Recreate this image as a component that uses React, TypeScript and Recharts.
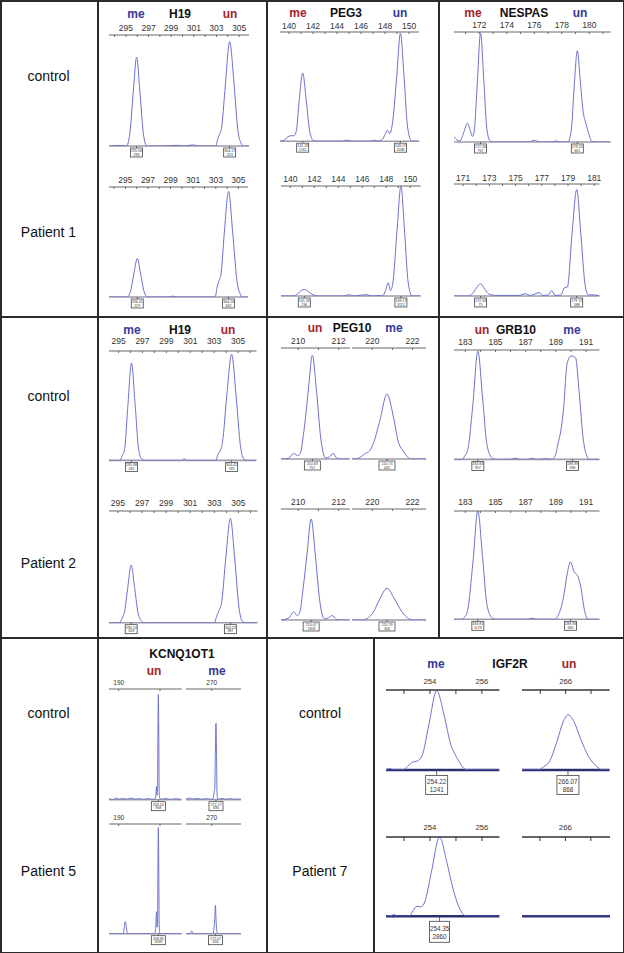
import React from 'react';
import { LineChart, Line, XAxis, YAxis, ReferenceLine, ReferenceDot } from 'recharts';

type Pt = [number, number];
type Box = { x: number; a: string; b: string };

const FONT = '"Liberation Sans", Arial, Helvetica, sans-serif';
const BLUE = '#363a94';
const RED = '#a3242b';
const TRACE = '#6c70cf';

// tick values and labelled ticks
const h19Ticks1 = [294, 295, 296, 297, 298, 299, 300, 301, 302, 303, 304, 305];
const h19Ticks2 = [295, 296, 297, 298, 299, 300, 301, 302, 303, 304, 305, 306];
const h19Labels = [295, 297, 299, 301, 303, 305];
const peg3Ticks = [140, 141, 142, 143, 144, 145, 146, 147, 148, 149, 150];
const peg3Labels = [140, 142, 144, 146, 148, 150];
const nespasTicks = [171, 172, 173, 174, 175, 176, 177, 178, 179, 180, 181];
const nespasLabelsCtrl = [172, 174, 176, 178, 180];
const nespasLabelsP1 = [171, 173, 175, 177, 179, 181];
const peg10TicksA = [210, 211, 212];
const peg10LabelsA = [210, 212];
const peg10TicksB = [220, 221, 222];
const peg10LabelsB = [220, 222];
const grb10Ticks = [183, 184, 185, 186, 187, 188, 189, 190, 191];
const grb10Labels = [183, 185, 187, 189, 191];
const kcnqTicksA = [190, 210];
const kcnqLabelsA = [190];
const kcnqTicksB = [270];
const kcnqLabelsB = [270];
const igf2rTicksA = [253, 254, 255, 256];
const igf2rLabelsA = [254, 256];
const igf2rTicksB = [265, 266, 267];
const igf2rLabelsB = [266];

// traces: [size (bp), signal (% of panel height)]
const h19Ctrl1: Pt[] = [
  [293.5, 0], [294.6, 0.5], [295.04, 0], [295.34, 11], [295.64, 48], [295.94, 80], [296.24, 48], [296.54, 11], [296.84, 0],
  [298.2, 0], [299.5, 0.6], [300.2, 0], [300.9, 1], [301.5, 0],
  [302.95, 0], [303.1, 6], [303.25, 10], [303.45, 16], [303.75, 50], [304.17, 94], [304.55, 57], [304.9, 14], [305.2, 2], [305.35, 0], [305.88, 0],
];
const peg3Ctrl: Pt[] = [
  [139.25, 0], [139.6, 1], [139.9, 4], [140.15, 5], [140.4, 5], [140.6, 9], [140.84, 36], [141.14, 62.5], [141.44, 37], [141.74, 8], [142.04, 0.5], [142.4, 0],
  [144.5, 0], [144.83, 1], [145.2, 0], [146.8, 0], [147.1, 0.8], [147.4, 0],
  [147.8, 2], [148.0, 6], [148.2, 10], [148.4, 7], [148.6, 15], [148.98, 60], [149.28, 99], [149.58, 60], [149.88, 13], [150.2, 0.5], [150.5, 0], [150.83, 0],
];
const nespasCtrl: Pt[] = [
  [170.16, 5], [170.35, 2], [170.6, 1], [170.85, 8], [171.13, 17], [171.35, 10], [171.5, 5], [171.63, 10], [171.86, 55], [172.09, 99], [172.32, 58], [172.55, 12], [172.8, 0.5], [173.1, 0],
  [175.6, 0], [176.0, 1.5], [176.4, 0], [177.3, 0], [177.6, 1], [177.9, 0],
  [178.45, 0], [178.7, 12], [178.9, 50], [179.13, 83], [179.35, 55], [179.55, 28], [179.75, 17], [179.95, 8], [180.2, 0.5], [180.5, 0], [181.55, 0],
];
const h19P1: Pt[] = [
  [293.55, 0], [295.15, 0], [295.45, 5], [295.75, 21], [296.05, 35], [296.35, 21], [296.65, 5], [296.95, 0],
  [298.8, 0], [299.2, 0.8], [299.6, 0],
  [302.95, 0], [303.1, 8], [303.25, 14], [303.45, 20], [303.75, 58], [304.13, 96], [304.5, 58], [304.88, 14], [305.2, 2], [305.35, 0], [305.85, 0],
];
const peg3P1: Pt[] = [
  [139.22, 0], [140.3, 0], [140.6, 2], [140.9, 5], [141.16, 6], [141.5, 4], [141.9, 1], [142.3, 0],
  [144.5, 0], [144.9, 1.2], [145.3, 0], [145.9, 0.8], [146.3, 1.2], [146.8, 0], [147.4, 0.5], [147.7, 0],
  [147.9, 4], [148.17, 12], [148.35, 5], [148.55, 12], [148.9, 60], [149.22, 100], [149.52, 60], [149.82, 13], [150.15, 0], [150.87, 0],
];
const nespasP1: Pt[] = [
  [170.3, 0], [171.4, 0], [171.7, 2], [172.0, 7], [172.33, 11], [172.65, 6], [173.0, 1.5], [173.5, 0.5],
  [175.2, 0.5], [175.76, 2], [176.1, 0.5], [176.8, 3], [177.1, 0.5], [177.5, 1], [177.75, 5], [178.0, 0.5],
  [178.45, 1], [178.74, 7.5], [178.95, 8], [179.3, 55], [179.66, 95], [179.98, 55], [180.3, 10], [180.55, 1], [181.0, 1], [181.4, 0],
];
const h19Ctrl2: Pt[] = [
  [294.2, 0], [295.1, 0], [295.3, 4], [295.5, 10], [295.78, 50], [296.08, 89], [296.38, 52], [296.68, 10], [296.95, 1], [297.2, 0],
  [300.3, 0], [300.5, 1.5], [300.7, 0],
  [303.15, 0], [303.3, 5], [303.49, 8.5], [303.7, 17], [304.06, 60], [304.46, 97], [304.84, 58], [305.2, 13], [305.5, 1], [305.7, 0], [306.54, 0],
];
const peg10CtrlA: Pt[] = [
  [209.15, 0], [209.5, 0.5], [209.78, 5], [209.98, 3], [210.1, 5], [210.28, 25], [210.49, 60], [210.7, 93.5], [210.91, 60], [211.12, 18], [211.35, 1],
  [211.55, 2], [211.72, 5], [211.9, 1], [212.1, 0], [212.55, 0],
];
const peg10CtrlB: Pt[] = [
  [218.99, 0], [219.1, 0], [219.4, 1.5], [219.65, 5], [219.85, 7], [220.05, 14], [220.38, 35], [220.73, 58.5], [221.05, 38], [221.3, 15], [221.5, 8], [221.7, 3], [221.9, 0], [222.68, 0],
];
const grb10Ctrl: Pt[] = [
  [182.25, 0], [182.8, 0], [182.95, 3], [183.15, 8], [183.5, 50], [183.83, 99], [184.15, 55], [184.45, 12], [184.8, 1], [185.0, 0],
  [186.0, 0], [186.3, 1.2], [186.6, 0], [187.15, 0], [187.4, 1], [187.7, 0], [188.5, 0.5], [188.7, 0],
  [188.95, 3], [189.15, 15], [189.3, 24], [189.5, 45], [189.75, 88], [190.0, 94.5], [190.3, 93], [190.55, 60], [190.8, 20], [191.05, 3], [191.2, 0], [191.89, 0],
];
const h19P2: Pt[] = [
  [294.26, 0], [295.1, 0], [295.35, 4], [295.55, 10], [295.8, 30], [296.1, 51.6], [296.4, 30], [296.7, 7], [297.0, 1], [297.2, 0],
  [303.0, 0], [303.2, 6], [303.39, 11], [303.6, 18], [303.95, 58], [304.33, 93.4], [304.7, 56], [305.05, 13], [305.35, 1], [305.6, 0], [306.58, 0],
];
const peg10P2A: Pt[] = [
  [209.15, 0], [209.55, 2], [209.78, 7.5], [209.95, 4], [210.08, 7], [210.24, 28], [210.44, 60], [210.64, 91], [210.85, 58], [211.06, 18], [211.3, 1],
  [211.5, 2], [211.68, 4], [211.85, 1], [212.0, 0], [212.55, 0],
];
const peg10P2B: Pt[] = [
  [218.99, 0], [219.5, 0], [219.8, 2], [220.05, 7], [220.35, 18], [220.73, 28.5], [221.1, 19], [221.45, 8], [221.75, 2], [222.0, 0], [222.68, 0],
];
const grb10P2: Pt[] = [
  [182.25, 0], [182.8, 0], [182.95, 2], [183.15, 8], [183.5, 52], [183.83, 100], [184.15, 56], [184.45, 12], [184.8, 1], [185.0, 0],
  [187.15, 0], [187.4, 1], [187.7, 0],
  [188.9, 0], [189.2, 5], [189.5, 20], [189.75, 42], [189.97, 53], [190.2, 44], [190.45, 40], [190.65, 30], [190.9, 8], [191.15, 0], [191.89, 0],
];
const kcnqCtrlA: Pt[] = [
  [185.3, 1], [187, 0], [188.5, 1.5], [190, 0.5], [192, 1], [194, 0.5], [196, 1.5], [198, 0.5], [200, 1], [202, 0.3], [204, 1], [206, 0.5],
  [207.6, 0.5], [208.0, 4], [208.3, 12], [208.6, 4], [208.8, 10], [209.0, 60], [209.2, 95], [209.4, 60], [209.6, 8], [209.9, 1],
  [211, 0.5], [213, 1], [215, 0.3], [217, 0.8], [220.5, 0.3],
];
const kcnqCtrlB: Pt[] = [
  [257.55, 0.5], [259.5, 1.5], [261, 0.5], [263, 1.2], [265, 0.4], [267, 1], [269, 0.5],
  [270.6, 0.5], [271.0, 4], [271.2, 7], [271.5, 10], [271.8, 45], [272.08, 69], [272.35, 40], [272.6, 6], [272.9, 0.5],
  [275, 1], [277, 0.4], [279, 1], [281, 0.5], [284.2, 0.5],
];
const kcnqP5A: Pt[] = [
  [185.3, 0], [192.2, 0], [192.7, 6], [193.2, 11], [193.7, 6], [194.2, 0],
  [207.5, 0], [208.0, 8], [208.35, 20], [208.6, 6], [208.85, 15], [209.0, 60], [209.2, 97], [209.4, 60], [209.6, 8], [209.9, 0], [220.5, 0],
];
const kcnqP5B: Pt[] = [
  [257.55, 0], [259.5, 0], [260.3, 2.5], [261.2, 0], [270.7, 0], [271.1, 5], [271.5, 14], [271.8, 26], [272.1, 13], [272.5, 2], [272.9, 0], [284.2, 0],
];
const igf2rCtrlA: Pt[] = [
  [252.31, 0], [252.46, 2], [252.6, 0], [252.95, 0], [253.15, 5], [253.35, 10], [253.5, 11], [253.7, 18], [253.95, 55], [254.26, 99],
  [254.55, 68], [254.8, 32], [254.96, 20], [255.15, 9], [255.35, 1], [255.5, 0], [256.67, 0],
];
const igf2rCtrlB: Pt[] = [
  [264.28, 0], [264.9, 0], [265.13, 4], [265.35, 10], [265.65, 35], [265.9, 60], [266.09, 69], [266.3, 62], [266.6, 38], [266.9, 17], [267.2, 5], [267.48, 0], [267.73, 0],
];
const igf2rP7A: Pt[] = [
  [252.31, 0], [252.5, 1], [252.62, 2], [252.78, 0], [253.2, 0], [253.35, 7], [253.5, 12.5], [253.65, 12], [253.8, 18], [254.05, 55], [254.37, 100],
  [254.65, 68], [254.9, 33], [255.1, 13], [255.3, 2], [255.45, 0], [256.67, 0],
];
const igf2rP7B: Pt[] = [[264.3, 0], [267.75, 0]];

// peak call boxes
const h19Ctrl1Boxes: Box[] = [{ x: 295.94, a: '295.94', b: '283' }, { x: 304.17, a: '304.17', b: '313' }];
const peg3CtrlBoxes: Box[] = [{ x: 141.14, a: '141.28', b: '1261' }, { x: 149.28, a: '149.17', b: '2038' }];
const nespasCtrlBoxes: Box[] = [{ x: 172.09, a: '172.30', b: '767' }, { x: 179.13, a: '179.25', b: '661' }];
const h19P1Boxes: Box[] = [{ x: 296.05, a: '296.01', b: '229' }, { x: 304.13, a: '304.16', b: '632' }];
const peg3P1Boxes: Box[] = [{ x: 141.16, a: '141.26', b: '236' }, { x: 149.22, a: '149.17', b: '3115' }];
const nespasP1Boxes: Box[] = [{ x: 172.33, a: '172.33', b: '75' }, { x: 179.66, a: '179.72', b: '588' }];
const h19Ctrl2Boxes: Box[] = [{ x: 296.08, a: '295.98', b: '492' }, { x: 304.46, a: '304.41', b: '535' }];
const peg10CtrlBoxesA: Box[] = [{ x: 210.7, a: '210.69', b: '757' }];
const peg10CtrlBoxesB: Box[] = [{ x: 220.73, a: '220.73', b: '445' }];
const grb10CtrlBoxes: Box[] = [{ x: 183.83, a: '183.84', b: '957' }, { x: 190.1, a: '189.99', b: '586' }];
const h19P2Boxes: Box[] = [{ x: 296.1, a: '296.10', b: '309' }, { x: 304.33, a: '304.23', b: '997' }];
const peg10P2BoxesA: Box[] = [{ x: 210.64, a: '210.67', b: '1309' }];
const peg10P2BoxesB: Box[] = [{ x: 220.73, a: '220.79', b: '306' }];
const grb10P2Boxes: Box[] = [{ x: 183.83, a: '183.85', b: '1179' }, { x: 189.97, a: '189.93', b: '685' }];
const kcnqCtrlBoxesA: Box[] = [{ x: 209.2, a: '209.14', b: '968' }];
const kcnqCtrlBoxesB: Box[] = [{ x: 272.08, a: '272.27', b: '696' }];
const kcnqP5BoxesA: Box[] = [{ x: 209.2, a: '208.96', b: '1699' }];
const kcnqP5BoxesB: Box[] = [{ x: 271.8, a: '272.07', b: '456' }];
const igf2rCtrlBoxesA: Box[] = [{ x: 254.26, a: '254.22', b: '1241' }];
const igf2rCtrlBoxesB: Box[] = [{ x: 266.09, a: '266.07', b: '868' }];
const igf2rP7BoxesA: Box[] = [{ x: 254.37, a: '254.35', b: '2860' }];

type TraceProps = {
  left: number; right: number; axisY: number; baseY: number;
  domain: [number, number]; ticks: number[]; labels: number[];
  pts: Pt[]; boxes?: Box[]; gap?: number; font?: number;
  boxW?: number; boxH?: number; boxFont?: number; boxOff?: number; heavy?: boolean;
};

// one electropherogram strip: top size axis, trace, baseline and peak boxes
function Trace(p: TraceProps) {
  const { left, right, axisY, baseY, domain, ticks, labels, pts, boxes = [], gap = 4, font = 8.5,
    boxW = 12, boxH = 9, boxFont = 3.6, boxOff = 2, heavy = false } = p;
  const top = 18;
  const side = 10; // room so end tick labels are not clipped
  const bottom = boxOff + boxH + 3;
  const w = right - left + side * 2;
  const h = baseY - axisY + top + bottom;
  const data = pts.map(([x, y]) => ({ x, y }));
  const down = heavy ? 4 : 2;
  const axisColor = heavy ? '#333' : '#666';

  const boxShape = (b: Box) => (sp: any) => {
    const cx = sp.cx;
    const cy = sp.cy;
    return (
      <g>
        <line x1={cx} x2={cx} y1={cy} y2={cy + boxOff} stroke="#444" strokeWidth={0.8} />
        <rect x={cx - boxW / 2} y={cy + boxOff} width={boxW} height={boxH} fill="#fff" stroke="#444" strokeWidth={0.8} />
        <text x={cx} y={cy + boxOff + boxH * 0.45} fontSize={boxFont} textAnchor="middle" fill="#333" fontFamily={FONT}>{b.a}</text>
        <text x={cx} y={cy + boxOff + boxH * 0.86} fontSize={boxFont} textAnchor="middle" fill="#333" fontFamily={FONT}>{b.b}</text>
      </g>
    );
  };

  return (
    <div style={{ position: 'absolute', left: left - side, top: axisY - top }}>
      <LineChart width={w} height={h} data={data} margin={{ top: 0, right: side, bottom, left: side }}>
        <XAxis
          dataKey="x" type="number" orientation="top" height={top} domain={domain} allowDataOverflow
          ticks={ticks} interval={0} tickFormatter={(v: number) => (labels.includes(v) ? String(v) : '')}
          tickSize={-down} tickMargin={gap + down}
          axisLine={{ stroke: axisColor, strokeWidth: heavy ? 1.3 : 1 }}
          tickLine={{ stroke: axisColor, strokeWidth: 1 }}
          tick={{ fontSize: font, fill: '#333', fontFamily: FONT }}
        />
        <YAxis hide domain={[0, 100]} allowDataOverflow />
        <ReferenceLine y={0} stroke={heavy ? '#2a3070' : '#9c9cab'} strokeWidth={heavy ? 2.5 : 1.6} />
        <Line type="monotone" dataKey="y" stroke={TRACE} strokeWidth={1} dot={false} isAnimationActive={false} />
        {boxes.map((b) => (
          <ReferenceDot key={b.x} x={b.x} y={0} r={0} shape={boxShape(b)} />
        ))}
      </LineChart>
    </div>
  );
}

const Txt = ({ x, y, size, color = '#111', bold = false, children }: any) => (
  <div style={{ position: 'absolute', left: x, top: y, transform: 'translate(-50%, -50%)', fontSize: size, fontWeight: bold ? 700 : 400, color, lineHeight: 1, whiteSpace: 'nowrap' }}>
    {children}
  </div>
);

const Rule = ({ x, y, w, h }: any) => (
  <div style={{ position: 'absolute', left: x, top: y, width: w, height: h, background: '#2b2b2b' }} />
);

export default function App() {
  return (
    <div style={{ position: 'absolute', left: 0, top: 0, width: 624, height: 953, background: '#fff', fontFamily: FONT, overflow: 'hidden' }}>
      {/* row labels */}
      <Txt x={48.5} y={76} size={14}>control</Txt>
      <Txt x={48.5} y={232} size={14}>Patient 1</Txt>
      <Txt x={48.5} y={396} size={14}>control</Txt>
      <Txt x={48.5} y={563} size={14}>Patient 2</Txt>
      <Txt x={48.5} y={713} size={14}>control</Txt>
      <Txt x={48.5} y={871} size={14}>Patient 5</Txt>
      <Txt x={320} y={713} size={14}>control</Txt>
      <Txt x={320} y={871} size={14}>Patient 7</Txt>

      {/* panel titles */}
      <Txt x={136} y={14} size={12} bold color={BLUE}>me</Txt>
      <Txt x={180} y={14} size={12} bold>H19</Txt>
      <Txt x={230} y={14} size={12} bold color={RED}>un</Txt>
      <Txt x={298} y={13} size={12} bold color={RED}>me</Txt>
      <Txt x={346} y={13} size={12} bold>PEG3</Txt>
      <Txt x={400} y={13} size={12} bold color={BLUE}>un</Txt>
      <Txt x={473} y={13} size={12} bold color={RED}>me</Txt>
      <Txt x={524} y={13} size={12} bold>NESPAS</Txt>
      <Txt x={580} y={13} size={12} bold color={BLUE}>un</Txt>

      <Txt x={132} y={330} size={12} bold color={BLUE}>me</Txt>
      <Txt x={180} y={330} size={12} bold>H19</Txt>
      <Txt x={228} y={330} size={12} bold color={RED}>un</Txt>
      <Txt x={315} y={328} size={12} bold color={RED}>un</Txt>
      <Txt x={352} y={328} size={12} bold>PEG10</Txt>
      <Txt x={394} y={328} size={12} bold color={BLUE}>me</Txt>
      <Txt x={482} y={330} size={12} bold color={RED}>un</Txt>
      <Txt x={516} y={330} size={12} bold>GRB10</Txt>
      <Txt x={572} y={330} size={12} bold color={BLUE}>me</Txt>

      <Txt x={182} y={654} size={12} bold>KCNQ1OT1</Txt>
      <Txt x={154} y={671} size={12} bold color={RED}>un</Txt>
      <Txt x={217} y={671} size={12} bold color={BLUE}>me</Txt>
      <Txt x={436} y={664} size={12} bold color={BLUE}>me</Txt>
      <Txt x={510} y={664} size={12} bold>IGF2R</Txt>
      <Txt x={569} y={664} size={12} bold color={RED}>un</Txt>

      {/* row 1 */}
      <Trace left={109} right={249} axisY={35} baseY={146} domain={[293.5, 305.88]} ticks={h19Ticks1} labels={h19Labels} pts={h19Ctrl1} boxes={h19Ctrl1Boxes} gap={3.9} />
      <Trace left={280} right={419} axisY={32.3} baseY={141.5} domain={[139.25, 150.83]} ticks={peg3Ticks} labels={peg3Labels} pts={peg3Ctrl} boxes={peg3CtrlBoxes} gap={3.2} />
      <Trace left={453.7} right={610.3} axisY={31.7} baseY={141.7} domain={[170.16, 181.55]} ticks={nespasTicks} labels={nespasLabelsCtrl} pts={nespasCtrl} boxes={nespasCtrlBoxes} gap={3.9} />
      <Trace left={109.4} right={248.4} axisY={187.3} baseY={297.3} domain={[293.55, 305.85]} ticks={h19Ticks1} labels={h19Labels} pts={h19P1} boxes={h19P1Boxes} gap={4.2} />
      <Trace left={280.7} right={420.4} axisY={185.7} baseY={295.7} domain={[139.22, 150.87]} ticks={peg3Ticks} labels={peg3Labels} pts={peg3P1} boxes={peg3P1Boxes} gap={4.3} />
      <Trace left={454.4} right={599.9} axisY={184} baseY={296} domain={[170.3, 181.4]} ticks={nespasTicks} labels={nespasLabelsP1} pts={nespasP1} boxes={nespasP1Boxes} gap={2.8} />

      {/* row 2 */}
      <Trace left={109.4} right={256.9} axisY={351.3} baseY={460.7} domain={[294.2, 306.54]} ticks={h19Ticks2} labels={h19Labels} pts={h19Ctrl2} boxes={h19Ctrl2Boxes} gap={6.9} />
      <Trace left={280.7} right={349.5} axisY={348} baseY={459} domain={[209.15, 212.55]} ticks={peg10TicksA} labels={peg10LabelsA} pts={peg10CtrlA} boxes={peg10CtrlBoxesA} gap={4.2} boxW={16} />
      <Trace left={352.3} right={426.5} axisY={348} baseY={459} domain={[218.99, 222.68]} ticks={peg10TicksB} labels={peg10LabelsB} pts={peg10CtrlB} boxes={peg10CtrlBoxesB} gap={4.2} boxW={16} />
      <Trace left={454.4} right={599.9} axisY={350.3} baseY={459.7} domain={[182.25, 191.89]} ticks={grb10Ticks} labels={grb10Labels} pts={grb10Ctrl} boxes={grb10CtrlBoxes} gap={5.2} />
      <Trace left={109.4} right={257.9} axisY={511.3} baseY={623} domain={[294.26, 306.58]} ticks={h19Ticks2} labels={h19Labels} pts={h19P2} boxes={h19P2Boxes} gap={5.2} />
      <Trace left={280.7} right={349.5} axisY={508.7} baseY={619.7} domain={[209.15, 212.55]} ticks={peg10TicksA} labels={peg10LabelsA} pts={peg10P2A} boxes={peg10P2BoxesA} gap={4.3} boxW={16} />
      <Trace left={352.3} right={426.5} axisY={508.7} baseY={619.7} domain={[218.99, 222.68]} ticks={peg10TicksB} labels={peg10LabelsB} pts={peg10P2B} boxes={peg10P2BoxesB} gap={4.3} boxW={16} />
      <Trace left={454.4} right={599.9} axisY={510.7} baseY={619} domain={[182.25, 191.89]} ticks={grb10Ticks} labels={grb10Labels} pts={grb10P2} boxes={grb10P2Boxes} gap={6.3} />

      {/* row 3 */}
      <Trace left={109.3} right={182} axisY={689.3} baseY={800} domain={[185.3, 220.5]} ticks={kcnqTicksA} labels={kcnqLabelsA} pts={kcnqCtrlA} boxes={kcnqCtrlBoxesA} gap={3.9} font={6.5} boxW={14} />
      <Trace left={186.3} right={241.3} axisY={689.3} baseY={800} domain={[257.55, 284.2]} ticks={kcnqTicksB} labels={kcnqLabelsB} pts={kcnqCtrlB} boxes={kcnqCtrlBoxesB} gap={3.9} font={6.5} boxW={14} />
      <Trace left={109.3} right={182} axisY={824.3} baseY={934} domain={[185.3, 220.5]} ticks={kcnqTicksA} labels={kcnqLabelsA} pts={kcnqP5A} boxes={kcnqP5BoxesA} gap={3.9} font={6.5} boxW={14} />
      <Trace left={186.3} right={241.3} axisY={824.3} baseY={934} domain={[257.55, 284.2]} ticks={kcnqTicksB} labels={kcnqLabelsB} pts={kcnqP5B} boxes={kcnqP5BoxesB} gap={3.9} font={6.5} boxW={14} />
      <Trace left={386} right={499.3} axisY={690.3} baseY={770.3} domain={[252.31, 256.67]} ticks={igf2rTicksA} labels={igf2rLabelsA} pts={igf2rCtrlA} boxes={igf2rCtrlBoxesA} gap={5.8} font={7.8} boxW={22} boxH={19} boxFont={6.3} boxOff={5.4} heavy />
      <Trace left={521.7} right={609.3} axisY={690.3} baseY={770.3} domain={[264.28, 267.73]} ticks={igf2rTicksB} labels={igf2rLabelsB} pts={igf2rCtrlB} boxes={igf2rCtrlBoxesB} gap={5.8} font={7.8} boxW={22} boxH={19} boxFont={6.3} boxOff={5.4} heavy />
      <Trace left={386} right={499.4} axisY={836.7} baseY={916} domain={[252.31, 256.67]} ticks={igf2rTicksA} labels={igf2rLabelsA} pts={igf2rP7A} boxes={igf2rP7BoxesA} gap={6.8} font={7.8} boxW={20} boxH={21} boxFont={6.3} boxOff={5} heavy />
      <Trace left={522} right={610} axisY={836.7} baseY={916} domain={[264.3, 267.75]} ticks={igf2rTicksB} labels={igf2rLabelsB} pts={igf2rP7B} gap={6.8} font={7.8} heavy />

      {/* table rules drawn last so they sit above the chart boxes */}
      <Rule x={0} y={0} w={624} h={1.5} />
      <Rule x={0} y={951.5} w={624} h={1.5} />
      <Rule x={0} y={0} w={1.5} h={953} />
      <Rule x={622.5} y={0} w={1.5} h={953} />
      <Rule x={96.5} y={0} w={2} h={953} />
      <Rule x={265.8} y={0} w={2} h={953} />
      <Rule x={437.8} y={0} w={2} h={638} />
      <Rule x={372.5} y={638} w={2} h={315} />
      <Rule x={0} y={316.3} w={624} h={2} />
      <Rule x={0} y={637} w={624} h={2} />
    </div>
  );
}
